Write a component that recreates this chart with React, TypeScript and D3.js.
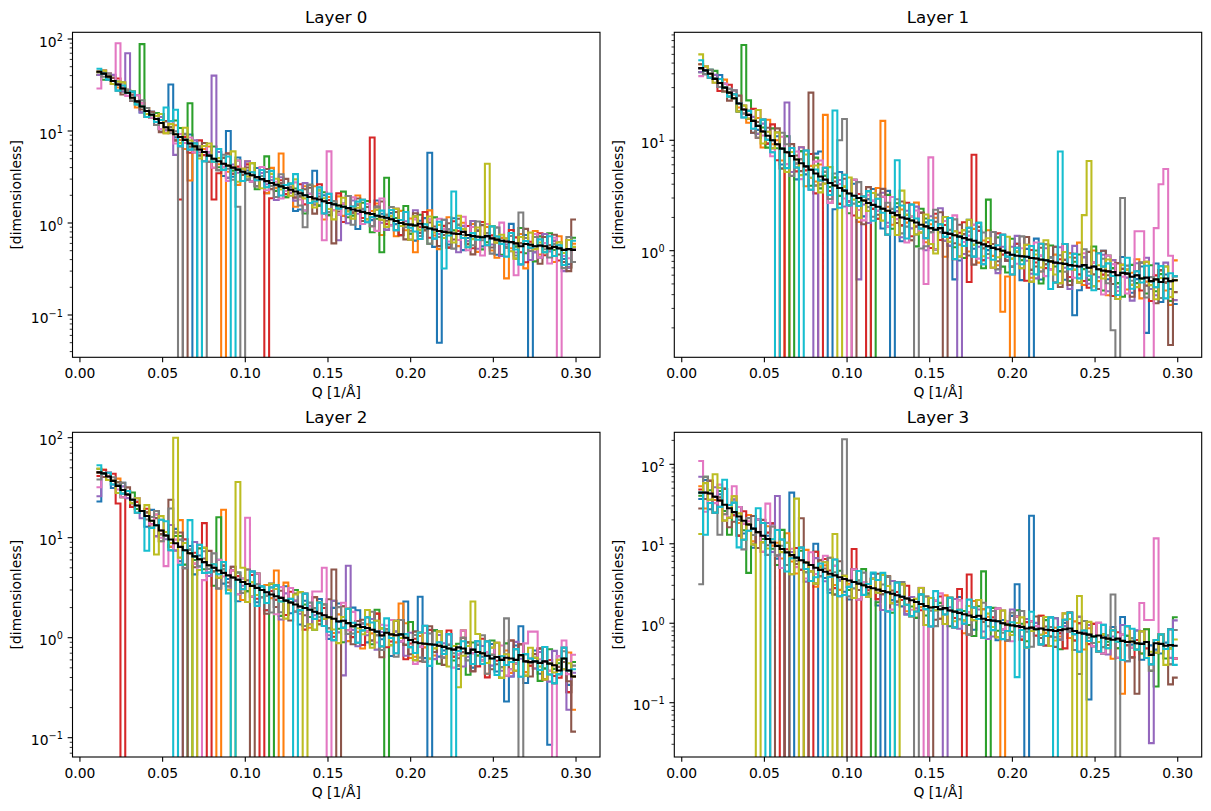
import React from "react";
import * as d3 from "d3";

// ---------- shared settings ----------
const COLORS = ["#1f77b4", "#ff7f0e", "#2ca02c", "#d62728", "#9467bd", "#8c564b", "#e377c2", "#7f7f7f", "#bcbd22", "#17becf"];
const Q_MIN = 0.01;
const Q_MAX = 0.30;
const N_BINS = 100;
const X_DOMAIN = [-0.0045, 0.3145];
const X_TICKS = [0, 0.05, 0.1, 0.15, 0.2, 0.25, 0.3];
const X_TICK_LABELS = ["0.00", "0.05", "0.10", "0.15", "0.20", "0.25", "0.30"];
const LAYER_TITLES = ["Layer 0", "Layer 1", "Layer 2", "Layer 3"];
const X_LABEL = "Q [1/Å]";
const Y_LABEL = "[dimensionless]";

// y-axis limits (log10 of min, max) per layer
const Y_LOG_L0 = [-1.4598, 2.0728];
const Y_LOG_L1 = [-0.9656, 1.978];
const Y_LOG_L2 = [-1.193, 2.054];
const Y_LOG_L3 = [-1.683, 2.4027];

// decades per scatter letter, per layer
const NOISE_STEP = [0.033, 0.036, 0.036, 0.04];

// ---------- mean (black) curves ----------
const MEAN_L0 = [44, 42, 39, 35, 32, 29, 26, 23, 21, 18.5,
  16.5, 15, 13.5, 12.2, 11, 10.2, 9.2, 8.6, 8.0, 7.3,
  6.8, 6.3, 5.9, 5.4, 5.0, 4.7, 4.4, 4.2, 4.0, 3.8,
  3.6, 3.45, 3.3, 3.15, 3.0, 2.85, 2.72, 2.6, 2.5, 2.4,
  2.3, 2.2, 2.1, 2.0, 1.92, 1.85, 1.8, 1.72, 1.65, 1.6,
  1.55, 1.5, 1.45, 1.4, 1.36, 1.32, 1.28, 1.25, 1.2, 1.17,
  1.14, 1.1, 1.05, 1.0, 0.97, 0.96, 0.94, 0.98, 0.9, 0.87,
  0.85, 0.82, 0.8, 0.79, 0.77, 0.76, 0.8, 0.74, 0.72, 0.71,
  0.7, 0.72, 0.68, 0.66, 0.64, 0.63, 0.62, 0.6, 0.56, 0.59,
  0.58, 0.56, 0.57, 0.56, 0.53, 0.55, 0.53, 0.51, 0.52, 0.51];

const MEAN_L1 = [45, 43, 40, 36, 33, 30, 27, 24, 21.5, 19,
  17, 15, 13.5, 12, 11, 10, 9.2, 8.4, 7.8, 7.2,
  6.7, 6.2, 5.8, 5.4, 5.0, 4.7, 4.4, 4.1, 3.9, 3.7,
  3.5, 3.3, 3.15, 3.0, 2.85, 2.7, 2.6, 2.5, 2.4, 2.3,
  2.2, 2.1, 2.0, 1.95, 1.88, 1.8, 1.72, 1.66, 1.6, 1.55,
  1.6, 1.45, 1.42, 1.38, 1.34, 1.3, 1.26, 1.23, 1.18, 1.14,
  1.1, 1.06, 1.03, 1.0, 0.96, 0.92, 0.9, 0.89, 0.88, 0.86,
  0.85, 0.83, 0.82, 0.8, 0.78, 0.77, 0.76, 0.74, 0.73, 0.72,
  0.74, 0.7, 0.72, 0.68, 0.66, 0.65, 0.64, 0.6, 0.63, 0.62,
  0.58, 0.6, 0.56, 0.57, 0.53, 0.55, 0.52, 0.56, 0.53, 0.54];

const MEAN_L2 = [45, 44, 41, 37, 33, 30, 27, 24, 21, 18.5,
  16.5, 14.8, 13.3, 11.8, 10.5, 9.6, 8.8, 8.1, 7.5, 7.0,
  6.5, 6.1, 5.7, 5.3, 5.0, 4.7, 4.45, 4.2, 4.0, 3.8,
  3.6, 3.45, 3.3, 3.15, 3.0, 2.85, 2.7, 2.6, 2.5, 2.35,
  2.25, 2.15, 2.05, 1.98, 1.9, 1.82, 1.75, 1.68, 1.6, 1.55,
  1.45, 1.48, 1.4, 1.3, 1.35, 1.28, 1.25, 1.2, 1.15, 1.05,
  1.12, 1.08, 1.06, 1.08, 1.0, 0.95, 0.9, 0.88, 0.87, 0.86,
  0.85, 0.83, 0.81, 0.78, 0.76, 0.8, 0.78, 0.7, 0.76, 0.72,
  0.7, 0.66, 0.62, 0.64, 0.6, 0.63, 0.62, 0.6, 0.67, 0.58,
  0.57, 0.58, 0.56, 0.58, 0.55, 0.53, 0.47, 0.62, 0.47, 0.41];

const MEAN_L3 = [44, 44, 43, 39, 35, 31, 28, 25, 22, 19.5,
  17.5, 15.5, 14, 12.6, 11.5, 10.4, 9.4, 8.6, 7.8, 7.2,
  6.7, 6.2, 5.8, 5.4, 5.0, 4.7, 4.45, 4.2, 4.0, 3.8,
  3.6, 3.45, 3.3, 3.15, 3.0, 2.85, 2.75, 2.65, 2.55, 2.45,
  2.35, 2.25, 2.15, 2.05, 1.95, 1.85, 1.75, 1.65, 1.58, 1.6,
  1.5, 1.55, 1.45, 1.4, 1.35, 1.3, 1.25, 1.2, 1.24, 1.14,
  1.1, 1.08, 1.06, 1.0, 0.96, 0.94, 0.92, 0.9, 0.86, 0.88,
  0.84, 0.86, 0.83, 0.82, 0.8, 0.82, 0.84, 0.86, 0.8, 0.76,
  0.74, 0.72, 0.68, 0.7, 0.66, 0.64, 0.62, 0.64, 0.6, 0.58,
  0.59, 0.56, 0.55, 0.58, 0.4, 0.56, 0.55, 0.52, 0.53, 0.52];

// ---------- per-series scatter around the mean ----------
// one letter per bin: 'm' = on the mean, each letter step = NOISE_STEP decades
const NOISE_L0 = [
  "mnlmnomlmk lnmkomljnp mkonlpimjq lnkpmiolnk mqlhnpkoim jnqlgmpkrn iolmqjhnpl kqmirnglpo jmqhnkslgp nkiqmlojhm",
  "lmnmlnmokm nlmokmpljo kmnpjlqkmh nqkmoirlnj lhnpmqkgom pjmlriknqg nmhqkopjls kgnrmipkqh mpignrkmqe lrjmnhqkgo",
  "lkmnmlnomn mlokmnjpmo lnjmqkoilp mkqinplkmj onlgqmkpin lrjkmpqglm oknisjmplh qkmhnpljrm ikqmgnolsj mhpkrlnigq",
  "mnmlomnlmn kmnplmkonj mplkoimqkn jpmlnqhmok nkpjmlrinm qhlnokmjpl knqimhplrj mlohqnkpim rjnlhmqokg nlqjmoikpm",
  "lmnomlmnlk mnkolmqjmk oljnmpkinl mqkjolnhpm ljnqmkoipk mnhplqjmok imqlnhrkmp jlqnmgokri mnkqhlpjno hkmqlonjgm",
  "mmlnmkmnol lnmjonkmpl nkpmljoqkm lonjmqkinp mklophnmjq knmlqjoimr lkpnhmqjlo nhlpkrmjgo qmjnlkphnr lmgpnqkiow",
  "inmlmnlmon mlnkmpjnlo kmonjqlhmp nlkmqjonil mpkhnmqlok jnlqmiplhs mkjnqlohmp lqnjmkrhpm gqmlsnjkgo mqinhplkjm",
  "mlnmkmnlmo nmkpmlnjom lnqkmjplim okmjnpliqm nlimqkpmjn lmqhonkipl nqjmlkpinh mkqnhplmjr lnhqmkoiqo kpmljnmgqi",
  "mnmlnommlm lmnpkomkqn mjoqlnkmpi nlqmjkpolm kqnlmjpnkh mpljnqkmol jnqlmhpkmq lokmjsnilp mkqlonjhpm qlnkmjolpn",
  "nmlmknmolm kmlnmpqjmk nojmlqkpim jmnlpkqmjn ognmklqipm lmknpqjlmo mpjnqlkhnm jpmlqokinl mjqnlhpkgn lmokqjnhmp",
];
const NOISE_L1 = [
  "mlnmonlmkm njlpkmoiqm hpkmrjnlgq mjpkinqlhr kogmqjpnih mqjlgnrkpi lnhqkmpgoj rhlnqkipmg ojmhrkngqm ilpjmqhnkg",
  "nmlmlomnlm kmoiqlnjpm lqhnkpmjoi nkqgmplhqn jmolhrkinp lgqmkojphn qkimgpnlrh mjqkohnpls hmqjngpkoi nqhlkmpjgr",
  "lmnomlmnkm omknjplhqm kpmiqjnlok mhqlnpkjmq ipkmngqolh nkqjmhplrg kmpihqnlmj ogmqlkrinp ljrmhqnkgm pkmiqjolhn",
  "mnlmkmonml lpjmkqinmo jnlqhmpkmi qkhnmoljpg mnkqilpmhq jolgnqkmpi nhqlkjpmgo lqkmhnrjpk ihnqlmgpon kmjqhnplim",
  "lmmnlmnomk mnkoljpmqi lqmhnkpjmo ikqmlhnpqj mnhokqlgpm rkjnmipqlh mqgnkorjli hnpkmqlgrm oimkqhpjnl gpmrkinqmh",
  "nmlmnlkmon ljnmokqhmp nkmqjlohnm pjlmgqnkri mkqnhlpjmo qhmkpnigql mnjqkhomrj kplmqgnhoi mqkhrljpnm hnqkmgplrj",
  "knmlmnlomm mkqlnimpjn oimkpqlhmn kmqjhonlpi qlmgnpkjoh mpkrhlnqim jhnqmlkopg qnikmhrljm pknmgqoilh mqjnkphmln",
  "mlnmlmnokl nmjplkmqoh lnqmjkoipm hmkqnljpmo nqikmpghlr lmnqhkoimp kqhmljnrpg mjqnhokmli qlhmpjnkgo lmqhnkipmn",
  "pnmlnmlmkn lmqjnkpmhn mjpkoilqmk nqlhmkpojm lhqnmjkpig mqknhorlmj ohkmqlnjpg nkrmjhpoli mqhnkplgon kjmqlhnpim",
  "omlmnmlnmk nkmpljqmio kmqhnlpjmh qjmknpiolg mkphqnljom nlqgmkpirh mjnqlhokmp iqmkhnrlpj mkgqnolhmq jnlpmkqhon",
];
const NOISE_L2 = [
  "lmnkmomlnm jpmlnkqimo hnqkmpjlog mkqinhplmq jnhokmqlgp rkmhqnijpl mgqknhpoim qjlnkgrmhp lnqimkhqog mpjknhqlim",
  "mnlmoknmlm nlpjmkoqhm kmqjlnpiom hqnkmolpjr mklqhnjpmi oqhmkgnlrj nmkpqhiolm jqmnkhrpgl mhnqkoipmj lkqhnmpjro",
  "nmlmnkmolm mkqlnjopim lpkmhqnjmo nkjqmlophi mqlnkhpjmr kgqmnlpiho mjnqkrhlpm qhkmjnpgol knrmhqjlpi mnhkqlomgq",
  "lnmomlmknm oljmnqkhpm nqhlmkpjon kmpjqhnlmi pnlgmqkojh mkqjnhlprm ikmqglnphq mnjrkhpmli qgnlmkrjpo lmqhnjkpgm",
  "gmnlmnlmok mnjplqkmhn qkmjnloipm lhqnkmpjgo mnkqilpmhr jmqlgnkphn mqnkhojlrm ipnqmkhlgp omkqjnhrlm nkpmhqljgn",
  "mlnmnlomkm nkolmjpqhm jmnqlhokpi mnlqkgpjom hpmknqjlri mqkhnopjlg nlqmkiphmr kmhqnjlpgo mqjknhrlpm ioqmkhnljw",
  "lmnmlknmom mlpkqjnhom kqhmnpljoi nmjqklohpm qkmhnjpilg mrkqhnlmjp oqhknmglpi mnjqhkrolm knpmqhjlgr ponmkhqrls",
  "kmlnmonlmm lnqjmkpohn mkplqhnjmo jqmnklhpim mkqhonlpjg qmjkhnprli nlgqmkoihp mqjnlhpkmo rhnmkqlpgi mnkqjhlomp",
  "nmlmkmnlom pmkqnlhjom ljqmnkpiom qhnkmjpolh nmqkihplmj gnqmlkrhpo mjqlnkhpmi lqmhnjkogr mkpqhnljmi qnlhmkpjom",
  "omnlmlnmkm nkmpqjlhmo mqjknlphim kmqhnjoplm nhlqmkpjig mkqnhlpomj qlhmnkjprg mnkqhlomip jqmhnklpgo nmkqjhlpmo",
];
const NOISE_L3 = [
  "kqhmorjlpi mgqknsiphm rjmhqnkgpl igqmnkrhpm kqjhnmplgo mhqkrnjilp qmgnkphljr nkhqmlojgp mrjkhnqlgo lqhmpkjnri",
  "ohqlmjnrkg pimhqlnjsk hmqkgporji nlqhmkpjgr mkqinhlpmo jqmhkgnrlp nkhqmjpigo mqlhnkrjpm hoqknmgjlr kmjqhnplgi",
  "lrnhpkmqgj ohqlmkgsin kpjhrmqlgo mjqnhkpilr gnqmkhrjpl okhmqnjgpm lqjmhkrnio mhpkqgnljr qkmhnlpjgo nmjqhkpilv",
  "nkqhmrjlgp mqhkosjgnl pjmhrkqnig mkhqnlpjmr jnlqhmkgpo qhmkrnjplg mnqkhjpiom kqhnmlgrjp mjqhnkpogl hnqkmjplri",
  "rmjpkhnqlg khqmrjogpn mqgkpnjhrl nkqhmjplgo qjmhnkrgpl mknqhjploi ghqmkrnjpl omkhqjnlgr mpjkqhnlrg kqmhnjpliu",
  "hkqmnrgjpl mqhrknjgom kqjmhpnlgr mhqknjprlg nkqmhjplri jmqhnkgprl mkhqnjplgo qjnkhmprlg nmjqhkpgol hkqmjnplgc",
  "qgmkrhnjpl nmqhkrjgpo jmhqknrlpg mkqhnjplrg hmqkjnplgo rkmhqjnplg mjqknhplgo nhqmkjrplg mkjqhnpgor kmhqjnplgi",
  "mrkhqjnplg okmqhrjnig lqjmhkprng mhknqjplor jqmkhnrplg nmqhkjgplr kpmjhqnrlg mhqnkjplgo qlkhjnrpmg nkqmhjplgr",
  "lpkmqhjrng mhqkjnrlpg qjmkhnprlg nkhqmjplro jmqkhnrgpl mhqjnkplrg okhqmjnpgl mkqhjnrplg hqmknjplgr mkqhnjpglo",
  "mqjhkrnplg kmhqjnrpgl mqkhjoplrg hkmqjnrplg nqmkhjplgr mkqhnjrplg qjmhknplgr mhkqjnprlg nkmhqjplgr qkmhjnplrg",
];

// ---------- individual values: [series, bin, value] (0 = empty bin) ----------
const OVR_L0 = [
  [6, 0, 29], [6, 4, 90], [6, 47, 0.65], [6, 48, 6], [6, 87, 0.27], [6, 96, 0],
  [4, 6, 70], [4, 16, 5.5], [4, 24, 40], [4, 50, 0.65], [4, 97, 0.3],
  [2, 9, 88], [2, 16, 13], [2, 19, 20], [2, 35, 5.3], [2, 59, 0.48], [2, 60, 3.1], [2, 84, 0.45],
  [0, 15, 32], [0, 20, 0], [0, 27, 10], [0, 41, 1.35], [0, 42, 1.4], [0, 45, 3.7], [0, 69, 5.8], [0, 70, 0.55], [0, 71, 0.05], [0, 90, 0],
  [8, 28, 6], [8, 81, 4.4],
  [9, 14, 18], [9, 16, 17], [9, 21, 0], [9, 28, 0], [9, 41, 3.4], [9, 72, 0.32], [9, 74, 2.2],
  [7, 17, 0], [7, 22, 0], [7, 29, 1.5], [7, 30, 0], [7, 43, 0.9], [7, 88, 1.3],
  [1, 19, 2.9], [1, 26, 0], [1, 38, 5.7], [1, 66, 0.48], [1, 85, 0.25],
  [3, 17, 1.8], [3, 24, 1.8], [3, 35, 0], [3, 57, 8.5],
  [5, 18, 0], [5, 49, 0.6], [5, 98, 0.3],
];
const OVR_L1 = [
  [2, 9, 73], [2, 10, 23], [2, 19, 0], [2, 36, 0], [2, 60, 2.9],
  [8, 0, 60], [8, 29, 0], [8, 42, 3.5], [8, 80, 2.1], [8, 81, 6.5],
  [4, 18, 22], [4, 24, 0], [4, 33, 0.55], [4, 54, 0],
  [5, 23, 27], [5, 32, 0], [5, 51, 0], [5, 98, 0.14],
  [1, 18, 0], [1, 26, 17], [1, 37, 3.7], [1, 38, 15], [1, 63, 0.28], [1, 65, 0],
  [9, 16, 0], [9, 21, 0], [9, 28, 18.6], [9, 41, 6.6], [9, 73, 0.45], [9, 75, 7.9],
  [7, 29, 10], [7, 30, 15.6], [7, 45, 0], [7, 86, 0.19], [7, 87, 0], [7, 88, 3.0],
  [3, 17, 0], [3, 25, 0], [3, 35, 0], [3, 56, 0.52], [3, 57, 7.4],
  [6, 31, 0], [6, 47, 0.5], [6, 48, 7], [6, 91, 1.5], [6, 92, 1.5], [6, 93, 0], [6, 94, 0], [6, 95, 1.6], [6, 96, 4.0], [6, 97, 5.5], [6, 98, 0.9],
  [0, 25, 7.9], [0, 27, 0], [0, 40, 0], [0, 53, 0.55], [0, 69, 0], [0, 78, 0.26], [0, 93, 0.18],
];
const OVR_L2 = [
  [3, 4, 22], [3, 5, 0], [3, 22, 14], [3, 23, 0], [3, 34, 0],
  [8, 12, 6.8], [8, 16, 100], [8, 20, 0], [8, 28, 0], [8, 29, 36], [8, 41, 2.7], [8, 43, 0], [8, 75, 0.32], [8, 78, 2.3],
  [5, 15, 24], [5, 18, 0], [5, 32, 0], [5, 49, 4.8], [5, 50, 0], [5, 99, 0.115],
  [1, 17, 15], [1, 25, 0], [1, 26, 19], [1, 37, 4.7], [1, 38, 0], [1, 63, 2.2], [1, 99, 0.19],
  [2, 19, 0], [2, 25, 16], [2, 36, 0], [2, 58, 1.9], [2, 60, 0],
  [6, 0, 32], [6, 14, 5.2], [6, 21, 0], [6, 31, 15.8], [6, 45, 2.9], [6, 46, 2.9], [6, 47, 5], [6, 48, 0], [6, 90, 1.15], [6, 91, 1.15], [6, 95, 0],
  [4, 0, 26], [4, 17, 0], [4, 51, 0.42], [4, 52, 5.25], [4, 98, 0.19],
  [9, 10, 7.4], [9, 16, 0], [9, 19, 15], [9, 28, 0], [9, 41, 0], [9, 74, 0],
  [0, 0, 23], [0, 53, 2.0], [0, 64, 2.3], [0, 67, 2.57], [0, 69, 0], [0, 85, 0.23], [0, 88, 1.3], [0, 94, 0.085],
  [7, 15, 19.6], [7, 85, 1.56], [7, 88, 0],
];
const OVR_L3 = [
  [6, 0, 110], [6, 7, 53], [6, 14, 32], [6, 46, 2.8], [6, 47, 0], [6, 92, 1.8], [6, 93, 1.1], [6, 94, 1.1], [6, 95, 11.7],
  [7, 0, 3.1], [7, 4, 13], [7, 9, 8.5], [7, 29, 0], [7, 30, 207], [7, 41, 3.3], [7, 42, 3.3], [7, 45, 0], [7, 79, 0.23], [7, 86, 2.3], [7, 87, 0],
  [8, 0, 13.3], [8, 3, 75], [8, 12, 0], [8, 20, 37], [8, 21, 0], [8, 27, 0], [8, 28, 13.3], [8, 29, 0], [8, 41, 0], [8, 78, 0], [8, 79, 2.2], [8, 80, 0],
  [9, 1, 13], [9, 5, 64], [9, 8, 9], [9, 12, 28], [9, 14, 0], [9, 26, 0], [9, 38, 4.3], [9, 40, 0], [9, 66, 0.21], [9, 74, 0],
  [2, 6, 13], [2, 10, 4.3], [2, 34, 4.8], [2, 36, 0], [2, 59, 4.5], [2, 60, 0], [2, 95, 0.16],
  [4, 16, 40], [4, 51, 0], [4, 94, 0.031],
  [0, 18, 0], [0, 19, 44], [0, 20, 0], [0, 24, 10], [0, 25, 0], [0, 36, 4.2], [0, 38, 0], [0, 66, 3.1], [0, 68, 0], [0, 69, 22.5], [0, 81, 0.11], [0, 88, 1.2],
  [5, 15, 0], [5, 18, 0], [5, 21, 21], [5, 22, 0], [5, 31, 0], [5, 48, 0], [5, 91, 0.13], [5, 98, 0.17],
  [3, 17, 0], [3, 23, 0], [3, 32, 8.6], [3, 33, 0], [3, 54, 2.7], [3, 55, 0], [3, 56, 4.1],
  [1, 63, 0], [1, 88, 0.13],
];

const LAYERS = [
  { title: LAYER_TITLES[0], mean: MEAN_L0, noise: NOISE_L0, ovr: OVR_L0, yLog: Y_LOG_L0 },
  { title: LAYER_TITLES[1], mean: MEAN_L1, noise: NOISE_L1, ovr: OVR_L1, yLog: Y_LOG_L1 },
  { title: LAYER_TITLES[2], mean: MEAN_L2, noise: NOISE_L2, ovr: OVR_L2, yLog: Y_LOG_L2 },
  { title: LAYER_TITLES[3], mean: MEAN_L3, noise: NOISE_L3, ovr: OVR_L3, yLog: Y_LOG_L3 },
];

const PANEL_BOXES = [
  { left: 72.5, top: 32.3, right: 600, bottom: 357.3 },
  { left: 674.3, top: 32.3, right: 1201.7, bottom: 357.3 },
  { left: 72.5, top: 432.3, right: 600, bottom: 757 },
  { left: 674.3, top: 432.3, right: 1201.7, bottom: 757 },
];

const FONT = "DejaVu Sans, sans-serif";
const TICK_FS = 13.89;
const SUP_FS = 9.7;
const MAJOR = 4.86;
const MINOR = 2.78;

function expLabel(e: number) {
  return e < 0 ? "\u2212" + Math.abs(e) : String(e);
}

function Panel({ idx }: { idx: number }) {
  const box = PANEL_BOXES[idx];
  const L = LAYERS[idx];
  const step = NOISE_STEP[idx];
  const x = d3.scaleLinear().domain(X_DOMAIN).range([box.left, box.right]);
  const y = d3.scaleLog().domain([Math.pow(10, L.yLog[0]), Math.pow(10, L.yLog[1])]).range([box.bottom, box.top]);
  const edges = d3.range(N_BINS + 1).map((i) => Q_MIN + ((Q_MAX - Q_MIN) * i) / N_BINS);

  const series = L.noise.map((s) => {
    const str = s.replace(/\s/g, "");
    return L.mean.map((m, i) => {
      const c = str.charCodeAt(i);
      const dev = isNaN(c) ? 0 : (c - 109) * step;
      return m * Math.pow(10, dev);
    });
  });
  L.ovr.forEach(([si, b, v]) => {
    series[si][b] = v;
  });

  const line = d3
    .line<[number, number]>()
    .x((d) => x(d[0]))
    .y((d) => (d[1] > 0 ? y(d[1]) : box.bottom + 60))
    .curve(d3.curveStepAfter);
  const pts = (vals: number[]): [number, number][] => [
    ...vals.map((v, i) => [edges[i], v] as [number, number]),
    [edges[N_BINS], vals[N_BINS - 1]],
  ];

  const lo = L.yLog[0];
  const hi = L.yLog[1];
  const majors: number[] = [];
  for (let e = Math.ceil(lo); e <= Math.floor(hi); e++) majors.push(e);
  const minors: number[] = [];
  for (let e = Math.floor(lo); e <= Math.floor(hi); e++) {
    for (let m = 2; m <= 9; m++) {
      const lv = e + Math.log10(m);
      if (lv >= lo && lv <= hi) minors.push(m * Math.pow(10, e));
    }
  }

  const clipId = `clip-${idx}`;
  const cx = (box.left + box.right) / 2;
  const cy = (box.top + box.bottom) / 2;

  return (
    <g>
      <defs>
        <clipPath id={clipId}>
          <rect x={box.left} y={box.top} width={box.right - box.left} height={box.bottom - box.top} />
        </clipPath>
      </defs>
      <g clipPath={`url(#${clipId})`} fill="none" strokeWidth={2.08} strokeLinejoin="miter" strokeLinecap="butt">
        {series.map((vals, si) => (
          <path key={si} d={line(pts(vals)) || ""} stroke={COLORS[si % COLORS.length]} />
        ))}
        <path d={line(pts(L.mean)) || ""} stroke="#000000" />
      </g>
      <rect x={box.left} y={box.top} width={box.right - box.left} height={box.bottom - box.top} fill="none" stroke="#000" strokeWidth={1.1} />
      {X_TICKS.map((t, i) => (
        <g key={"xt" + i}>
          <line x1={x(t)} x2={x(t)} y1={box.bottom} y2={box.bottom + MAJOR} stroke="#000" strokeWidth={1.1} />
          <text x={x(t)} y={box.bottom + 21} textAnchor="middle" fontFamily={FONT} fontSize={TICK_FS} fill="#000">
            {X_TICK_LABELS[i]}
          </text>
        </g>
      ))}
      {minors.map((v, i) => (
        <line key={"ym" + i} x1={box.left - MINOR} x2={box.left} y1={y(v)} y2={y(v)} stroke="#000" strokeWidth={0.8} />
      ))}
      {majors.map((e) => {
        const ty = y(Math.pow(10, e));
        return (
          <g key={"yM" + e}>
            <line x1={box.left - MAJOR} x2={box.left} y1={ty} y2={ty} stroke="#000" strokeWidth={1.1} />
            <text x={box.left - 9.7} y={ty + 7.7} textAnchor="end" fontFamily={FONT} fontSize={TICK_FS} fill="#000">
              10
              <tspan dy={-6} fontSize={SUP_FS}>
                {expLabel(e)}
              </tspan>
            </text>
          </g>
        );
      })}
      <text x={cx} y={box.top - 9.3} textAnchor="middle" fontFamily={FONT} fontSize={16.67} fill="#000">
        {L.title}
      </text>
      <text x={cx} y={box.bottom + 40} textAnchor="middle" fontFamily={FONT} fontSize={TICK_FS} fill="#000">
        {X_LABEL}
      </text>
      <text
        x={box.left - 51}
        y={cy}
        textAnchor="middle"
        fontFamily={FONT}
        fontSize={TICK_FS}
        fill="#000"
        transform={`rotate(-90 ${box.left - 51} ${cy})`}
      >
        {Y_LABEL}
      </text>
    </g>
  );
}

export default function App() {
  return (
    <svg
      width={1211}
      height={811}
      viewBox="0 0 1211 811"
      style={{ position: "absolute", left: 0, top: 0, background: "#fff" }}
    >
      <rect x={0} y={0} width={1211} height={811} fill="#fff" />
      {[0, 1, 2, 3].map((i) => (
        <Panel key={i} idx={i} />
      ))}
    </svg>
  );
}
